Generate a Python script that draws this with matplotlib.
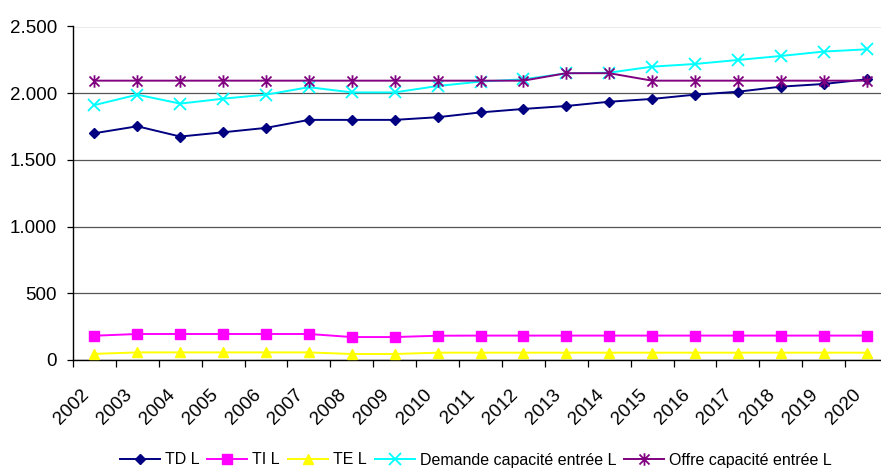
import matplotlib
matplotlib.use("Agg")
import matplotlib.pyplot as plt
from matplotlib.path import Path
from matplotlib.ticker import FuncFormatter, FixedLocator
from matplotlib.transforms import ScaledTranslation

plt.rcParams['font.family'] = ['Liberation Sans', 'DejaVu Sans']

years = [str(y) for y in range(2002, 2021)]
td_l = [1700, 1752, 1675, 1707, 1740, 1800, 1800, 1800, 1820, 1856, 1882, 1904,
        1936, 1957, 1989, 2011, 2049, 2069, 2104]
ti_l = [182, 195, 195, 195, 195, 195, 172, 172, 182, 183, 183, 183,
        183, 183, 183, 183, 183, 183, 183]
te_l = [46, 57, 57, 57, 57, 57, 45, 45, 55, 55, 55, 55,
        55, 55, 55, 55, 55, 55, 55]
demande = [1911, 1989, 1922, 1959, 1989, 2045, 2006, 2006, 2054, 2087, 2104, 2149,
           2154, 2199, 2219, 2249, 2279, 2312, 2329]
offre = [2094, 2094, 2094, 2094, 2094, 2094, 2094, 2094, 2094, 2094, 2094, 2150,
         2150, 2094, 2094, 2094, 2094, 2094, 2094]

# asterisk marker: an "x" with a vertical stroke through it
star_path = Path(
    [(-1, -1), (1, 1), (-1, 1), (1, -1), (0, -1.25), (0, 1.25)],
    [Path.MOVETO, Path.LINETO, Path.MOVETO, Path.LINETO, Path.MOVETO, Path.LINETO],
)

fig = plt.figure(figsize=(8.81, 4.68), dpi=100)
ax = fig.add_axes([73 / 881, 108 / 468, 815 / 881, 333.5 / 468])

x = list(range(len(years)))
lw = 1.4
ax.plot(x, td_l, color='#000080', lw=lw, marker='D', ms=5.5, label='TD L', zorder=3)
ax.plot(x, ti_l, color='#FF00FF', lw=lw, marker='s', ms=6.5, label='TI L', zorder=3)
ax.plot(x, te_l, color='#FFFF00', lw=lw, marker='^', ms=7.5, label='TE L', zorder=3)
ax.plot(x, demande, color='#00FFFF', lw=lw, marker='x', ms=8, mew=1.3,
        label='Demande capacité entrée L', zorder=3)
ax.plot(x, offre, color='#800080', lw=lw, marker=star_path, ms=9, mew=1.3,
        label='Offre capacité entrée L', zorder=3)

ax.set_xlim(-0.5, len(years) - 0.5)
ax.set_ylim(0, 2500)
ax.set_yticks(range(0, 2501, 500))
ax.yaxis.set_major_formatter(FuncFormatter(lambda v, p: f"{int(v):,}".replace(',', '.')))
ax.yaxis.grid(True, color='#555555', lw=0.9)
ax.set_axisbelow(True)

ax.set_xticks(x)
ax.set_xticklabels(years, rotation=45, ha='right', va='center', rotation_mode='anchor')
ax.xaxis.set_minor_locator(FixedLocator([i - 0.5 for i in range(len(years) + 1)]))
ax.tick_params(axis='x', which='major', length=0, pad=23, labelsize=13.5)
ax.tick_params(axis='x', which='minor', length=5, width=0.9, direction='out')
ax.tick_params(axis='y', length=4.5, width=0.9, direction='out', labelsize=13.5, pad=7)

# nudge the rotated year labels to the left
shift = ScaledTranslation(-8 / 100, 0, fig.dpi_scale_trans)
for tick in ax.xaxis.get_major_ticks():
    tick.label1.set_transform(tick.label1.get_transform() + shift)

for s in ('top', 'right'):
    ax.spines[s].set_visible(False)
for s in ('left', 'bottom'):
    ax.spines[s].set_color('black')
    ax.spines[s].set_linewidth(1.0)

fig.legend(loc='center', bbox_to_anchor=(476 / 881, 1 - 460 / 468), ncol=5,
           frameon=False, fontsize=11.5, handlelength=2.5, handletextpad=0.32,
           columnspacing=0.5, borderaxespad=0)

fig.savefig('out.png', dpi=100)
